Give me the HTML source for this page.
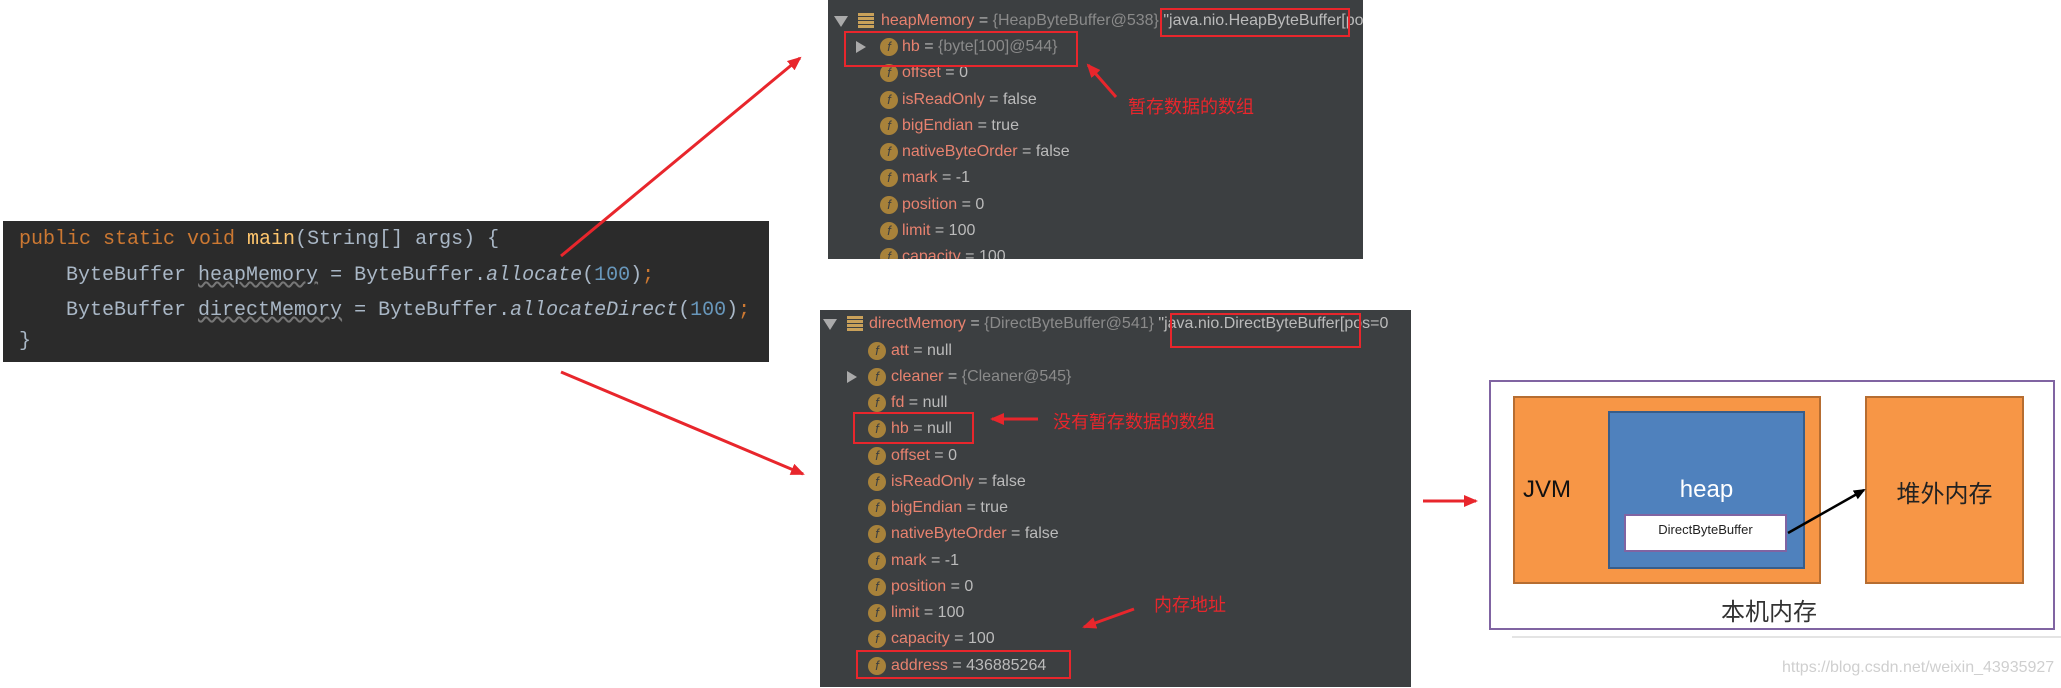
<!DOCTYPE html>
<html><head><meta charset="utf-8"><style>
body{margin:0;width:2061px;height:688px;background:#fff;position:relative;overflow:hidden;font-family:"Liberation Sans","Noto Sans CJK SC",sans-serif}
.a{position:absolute;white-space:nowrap}
.code{position:absolute;left:3px;top:221px;width:766px;height:141px;background:#2b2b2b;font-family:"Liberation Mono",monospace;font-size:20px;color:#a9b7c6}
.code div{position:absolute;white-space:pre;line-height:24px}
.kw{color:#cc7832}.fn{color:#ffc66d}.it{font-style:italic;color:#a9b7c6}.num{color:#6897bb}.und{text-decoration:underline wavy #777;color:#a9b7c6}
.panel{position:absolute;background:#3c3f41}
.row{position:absolute;font-size:16px;line-height:20px;color:#bbbbbb;white-space:nowrap}
.n{color:#e8826f}.g{color:#8a8a8a}
.ic{position:absolute;width:18px;height:18px;border-radius:50%;background:#a8823a;color:#3c3f41;font-size:13px;line-height:18px;text-align:center;font-style:italic}
.tri{position:absolute;width:0;height:0;border-top:6px solid transparent;border-bottom:6px solid transparent;border-left:10px solid #aaa}
.trd{position:absolute;width:0;height:0;border-left:7px solid transparent;border-right:7px solid transparent;border-top:11px solid #aaa}
.rb{position:absolute;border:2px solid #e8262c}
.red{color:#e8262c;font-size:18px}
</style></head><body>

<div class="code">
<div style="left:16px;top:7px"><span class="kw">public static void </span><span class="fn">main</span>(String[] args) {</div>
<div style="left:63px;top:43px">ByteBuffer <span class="und">heapMemory</span> = ByteBuffer.<span class="it">allocate</span>(<span class="num">100</span>)<span class="kw">;</span></div>
<div style="left:63px;top:78px">ByteBuffer <span class="und">directMemory</span> = ByteBuffer.<span class="it">allocateDirect</span>(<span class="num">100</span>)<span class="kw">;</span></div>
<div style="left:16px;top:109px">}</div>
</div>

<!-- heap panel -->
<div class="panel" style="left:828px;top:0;width:535px;height:259px;overflow:hidden">
<div class="trd" style="left:6px;top:16px"></div>
<div class="a" style="left:30px;top:13px;width:16px;height:16px;background:repeating-linear-gradient(#c9a15a 0 3px,#3c3f41 3px 4px)"></div>
<div class="row" style="left:53px;top:11px"><span class="n">heapMemory</span> = <span class="g">{HeapByteBuffer@538}</span> "java.nio.HeapByteBuffer[pos=0</div>
<div class="tri" style="left:28px;top:41px"></div>
<div class="ic" style="left:52px;top:38px">f</div><div class="row" style="left:74px;top:37px"><span class="n">hb</span> = <span class="g">{byte[100]@544}</span></div>
<div class="ic" style="left:52px;top:64px">f</div><div class="row" style="left:74px;top:63px"><span class="n">offset</span> = 0</div>
<div class="ic" style="left:52px;top:91px">f</div><div class="row" style="left:74px;top:90px"><span class="n">isReadOnly</span> = false</div>
<div class="ic" style="left:52px;top:117px">f</div><div class="row" style="left:74px;top:116px"><span class="n">bigEndian</span> = true</div>
<div class="ic" style="left:52px;top:143px">f</div><div class="row" style="left:74px;top:142px"><span class="n">nativeByteOrder</span> = false</div>
<div class="ic" style="left:52px;top:169px">f</div><div class="row" style="left:74px;top:168px"><span class="n">mark</span> = -1</div>
<div class="ic" style="left:52px;top:196px">f</div><div class="row" style="left:74px;top:195px"><span class="n">position</span> = 0</div>
<div class="ic" style="left:52px;top:222px">f</div><div class="row" style="left:74px;top:221px"><span class="n">limit</span> = 100</div>
<div class="ic" style="left:52px;top:248px">f</div><div class="row" style="left:74px;top:247px"><span class="n">capacity</span> = 100</div>
</div>
<div class="rb" style="left:1160px;top:8px;width:186px;height:25px"></div>
<div class="rb" style="left:844px;top:31px;width:230px;height:32px"></div>
<div class="a red" style="left:1128px;top:93px">暂存数据的数组</div>

<!-- direct panel -->
<div class="panel" style="left:820px;top:310px;width:591px;height:377px;overflow:hidden">
<div class="trd" style="left:3px;top:9px"></div>
<div class="a" style="left:27px;top:6px;width:16px;height:16px;background:repeating-linear-gradient(#c9a15a 0 3px,#3c3f41 3px 4px)"></div>
<div class="row" style="left:49px;top:4px"><span class="n">directMemory</span> = <span class="g">{DirectByteBuffer@541}</span> "java.nio.DirectByteBuffer[pos=0</div>
<div class="ic" style="left:48px;top:32px">f</div><div class="row" style="left:71px;top:31px"><span class="n">att</span> = null</div>
<div class="tri" style="left:27px;top:61px"></div>
<div class="ic" style="left:48px;top:58px">f</div><div class="row" style="left:71px;top:57px"><span class="n">cleaner</span> = <span class="g">{Cleaner@545}</span></div>
<div class="ic" style="left:48px;top:84px">f</div><div class="row" style="left:71px;top:83px"><span class="n">fd</span> = null</div>
<div class="ic" style="left:48px;top:110px">f</div><div class="row" style="left:71px;top:109px"><span class="n">hb</span> = null</div>
<div class="ic" style="left:48px;top:137px">f</div><div class="row" style="left:71px;top:136px"><span class="n">offset</span> = 0</div>
<div class="ic" style="left:48px;top:163px">f</div><div class="row" style="left:71px;top:162px"><span class="n">isReadOnly</span> = false</div>
<div class="ic" style="left:48px;top:189px">f</div><div class="row" style="left:71px;top:188px"><span class="n">bigEndian</span> = true</div>
<div class="ic" style="left:48px;top:215px">f</div><div class="row" style="left:71px;top:214px"><span class="n">nativeByteOrder</span> = false</div>
<div class="ic" style="left:48px;top:242px">f</div><div class="row" style="left:71px;top:241px"><span class="n">mark</span> = -1</div>
<div class="ic" style="left:48px;top:268px">f</div><div class="row" style="left:71px;top:267px"><span class="n">position</span> = 0</div>
<div class="ic" style="left:48px;top:294px">f</div><div class="row" style="left:71px;top:293px"><span class="n">limit</span> = 100</div>
<div class="ic" style="left:48px;top:320px">f</div><div class="row" style="left:71px;top:319px"><span class="n">capacity</span> = 100</div>
<div class="ic" style="left:48px;top:347px">f</div><div class="row" style="left:71px;top:346px"><span class="n">address</span> = 436885264</div>
</div>
<div class="rb" style="left:1170px;top:313px;width:187px;height:31px"></div>
<div class="rb" style="left:853px;top:412px;width:117px;height:28px"></div>
<div class="rb" style="left:856px;top:650px;width:211px;height:25px"></div>
<div class="a red" style="left:1053px;top:408px">没有暂存数据的数组</div>
<div class="a red" style="left:1154px;top:591px">内存地址</div>

<!-- diagram -->
<div class="a" style="left:1489px;top:380px;width:562px;height:246px;border:2px solid #8064a2"></div>
<div class="a" style="left:1513px;top:396px;width:304px;height:184px;background:#f79646;border:2px solid #b66d31"></div>
<div class="a" style="left:1608px;top:411px;width:193px;height:154px;background:#4f81bd;border:2px solid #385d8a"></div>
<div class="a" style="left:1624px;top:514px;width:159px;height:34px;background:#fff;border:2px solid #8064a2"></div>
<div class="a" style="left:1624px;top:522px;width:163px;text-align:center;font-size:13px;color:#222">DirectByteBuffer</div>
<div class="a" style="left:1608px;top:476px;width:197px;text-align:center;font-size:24px;color:#fff">heap</div>
<div class="a" style="left:1523px;top:476px;font-size:24px;color:#111">JVM</div>
<div class="a" style="left:1865px;top:396px;width:155px;height:184px;background:#f79646;border:2px solid #b66d31"></div>
<div class="a" style="left:1865px;top:474px;width:159px;text-align:center;font-size:24px;color:#222">堆外内存</div>
<div class="a" style="left:1689px;top:592px;width:160px;text-align:center;font-size:24px;color:#333">本机内存</div>
<div class="a" style="left:1512px;top:636px;width:549px;height:2px;background:#e4e4e4"></div>
<div class="a" style="left:1782px;top:659px;font-size:16px;color:#cfcfcf">https://blog.csdn.net/weixin_43935927</div>

<svg class="a" style="left:0;top:0" width="2061" height="688">
<defs>
<marker id="rr" markerWidth="14" markerHeight="12" refX="12" refY="6" orient="auto" markerUnits="userSpaceOnUse"><path d="M0,0 L14,6 L0,12 z" fill="#e8262c"/></marker>
<marker id="k" markerWidth="12" markerHeight="10" refX="10" refY="5" orient="auto" markerUnits="userSpaceOnUse"><path d="M0,0 L12,5 L0,10 z" fill="#000"/></marker>
</defs>
<g stroke="#e8262c" stroke-width="3" fill="none">
<line x1="561" y1="256" x2="800" y2="58" marker-end="url(#rr)"/>
<line x1="561" y1="372" x2="803" y2="474" marker-end="url(#rr)"/>
<line x1="1116" y1="97" x2="1088" y2="65" marker-end="url(#rr)"/>
<line x1="1038" y1="419" x2="992" y2="419" marker-end="url(#rr)"/>
<line x1="1134" y1="609" x2="1084" y2="627" marker-end="url(#rr)"/>
<line x1="1423" y1="501" x2="1476" y2="501" marker-end="url(#rr)"/>
</g>
<line x1="1788" y1="533" x2="1864" y2="490" stroke="#000" stroke-width="2.5" marker-end="url(#k)"/>
</svg>
</body></html>
